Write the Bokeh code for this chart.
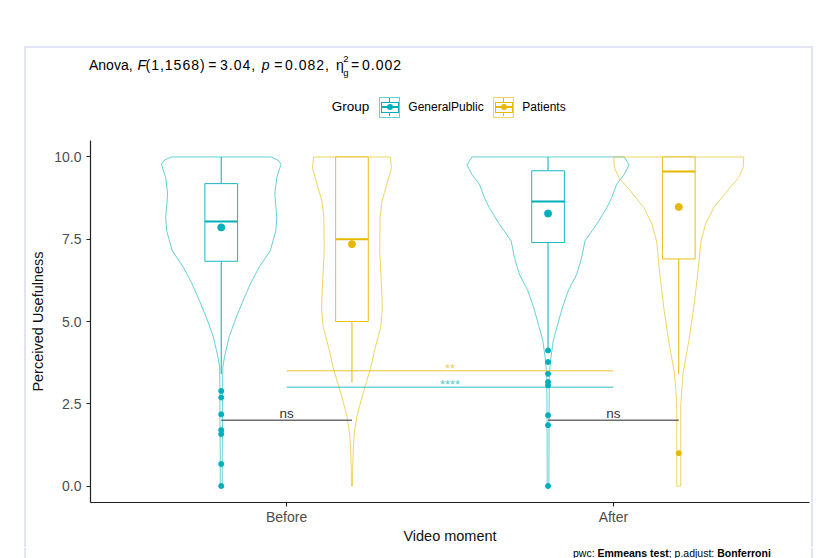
from bokeh.plotting import figure
from bokeh.models import Range1d, FixedTicker, PrintfTickFormatter, Div
from bokeh.layouts import column, row
from bokeh.embed import file_html
from bokeh.resources import INLINE
from bokeh.core.properties import value

FONT = "Liberation Sans"

# ---------------- data ----------------
moments = ["Before", "After"]
groups = ["GeneralPublic", "Patients"]
group_colors = ["#00AFBB", "#E7B800"]
group_rgba = ["rgba(0,175,187,0.6)", "rgba(231,184,0,0.6)"]

# violin outlines: value levels and half-widths (x units)
gp_before_y = [10.0, 9.9, 9.78, 9.37, 8.87, 8.16, 7.76, 7.15, 6.65, 6.14, 5.64, 5.13, 4.53, 3.92, 3.62, 3.0, 2.0, 1.0, 0.0]
gp_before_w = [0.153, 0.174, 0.183, 0.170, 0.164, 0.170, 0.167, 0.150, 0.116, 0.089, 0.067, 0.046, 0.024, 0.010, 0.005, 0.004, 0.004, 0.003, 0.003]
pt_before_y = [10.0, 9.68, 9.17, 8.67, 8.16, 7.15, 6.14, 5.43, 4.83, 4.12, 3.62, 3.11, 2.61, 2.10, 1.60, 1.09, 0.5, 0.0]
pt_before_w = [0.117, 0.121, 0.107, 0.092, 0.086, 0.085, 0.090, 0.093, 0.088, 0.069, 0.058, 0.043, 0.028, 0.015, 0.007, 0.004, 0.002, 0.0015]
gp_after_y = [10.0, 9.76, 9.47, 9.17, 8.77, 8.46, 7.96, 7.45, 6.95, 6.44, 5.94, 5.43, 4.93, 4.42, 3.92, 3.41, 2.0, 0.0]
gp_after_w = [0.233, 0.248, 0.233, 0.210, 0.195, 0.180, 0.149, 0.113, 0.103, 0.088, 0.062, 0.044, 0.030, 0.016, 0.009, 0.004, 0.003, 0.0025]
pt_after_y = [10.0, 9.68, 9.37, 8.97, 8.46, 7.96, 7.45, 6.44, 5.43, 4.42, 3.41, 2.90, 2.40, 1.40, 0.0]
pt_after_w = [0.199, 0.197, 0.183, 0.148, 0.107, 0.082, 0.068, 0.058, 0.046, 0.031, 0.013, 0.009, 0.006, 0.006, 0.006]

# box statistics, order: GP-Before, Patients-Before, GP-After, Patients-After
box_moment = [0, 0, 1, 1]
box_group = [0, 1, 0, 1]
q1 = [6.83, 5.00, 7.40, 6.90]
median = [8.04, 7.50, 8.65, 9.56]
q3 = [9.19, 10.0, 9.58, 10.0]
whisk_lo = [3.40, 3.15, 4.20, 3.40]
whisk_hi = [10.0, 10.0, 10.0, 10.0]
means = [7.86, 7.35, 8.28, 8.48]
outliers = [
    [2.89, 2.69, 2.18, 1.70, 1.58, 0.67, 0.0],
    [],
    [4.12, 3.77, 3.41, 3.16, 3.06, 2.15, 1.85, 0.0],
    [1.0],
]
violin_y = [gp_before_y, pt_before_y, gp_after_y, pt_after_y]
violin_w = [gp_before_w, pt_before_w, gp_after_w, pt_after_w]

# pairwise comparisons
ns_labels = ["ns", "ns"]          # GP vs Patients within each moment
ns_y = [2.0, 2.0]
time_labels = ["****", "**"]      # Before vs After within each group
time_y = [3.0, 3.5]

y_ticks = [0, 2.5, 5, 7.5, 10]

DODGE = 0.2
BOX_HALF = 0.05
PX = 1 / 32.9   # one screen pixel in y units
FIG_H = 407


def xpos(mi, gi):
    return (mi + 1) + (gi - 0.5) * 2 * DODGE


p = figure(width=785, height=FIG_H, x_range=Range1d(0.4, 2.6), y_range=Range1d(-0.5, 10.5),
           output_backend="svg", toolbar_location=None,
           min_border_left=64, min_border_right=2, min_border_top=0, min_border_bottom=45, margin=0)
p.outline_line_color = None
p.xgrid.visible = False
p.ygrid.visible = False
p.background_fill_color = "white"
p.border_fill_color = "white"

# ---------------- violins + boxes ----------------
for i in range(4):
    c = xpos(box_moment[i], box_group[i])
    col = group_colors[box_group[i]]
    ys = violin_y[i]
    ws = violin_w[i]
    xs = [c + w for w in ws] + [c - w for w in reversed(ws)]
    yy = list(ys) + list(reversed(ys))
    p.patch(xs, yy, fill_color=None, line_color=col, line_alpha=0.6, line_width=1.0)

for i in range(4):
    c = xpos(box_moment[i], box_group[i])
    col = group_colors[box_group[i]]
    p.segment(x0=[c, c], y0=[q3[i], q1[i]], x1=[c, c], y1=[whisk_hi[i], whisk_lo[i]],
              line_color=col, line_width=1)
    p.quad(left=[c - BOX_HALF], right=[c + BOX_HALF], bottom=[q1[i]], top=[q3[i]],
           fill_color="white", line_color=col, line_width=1, line_alpha=0.9)
    p.segment(x0=[c - BOX_HALF], y0=[median[i]], x1=[c + BOX_HALF], y1=[median[i]],
              line_color=col, line_width=2)
    p.scatter([c], [means[i]], size=7, color=col)
    if outliers[i]:
        p.scatter([c] * len(outliers[i]), outliers[i], size=5, color=col)

# ---------------- comparison brackets ----------------
for mi in range(2):
    x0 = xpos(mi, 0)
    x1 = xpos(mi, 1)
    p.segment(x0=[x0], y0=[ns_y[mi]], x1=[x1], y1=[ns_y[mi]], line_color="#555555", line_width=1.5, line_alpha=0.85)
    p.text(x=[(x0 + x1) / 2], y=[ns_y[mi] + 7 * PX], text=[ns_labels[mi]], text_align="center",
           text_baseline="alphabetic", text_font=value(FONT), text_font_size="13.5px", text_color="#333333")

for gi in range(2):
    col = group_colors[gi]
    p.segment(x0=[1], y0=[time_y[gi]], x1=[2], y1=[time_y[gi]], line_color=col, line_width=1.5, line_alpha=0.55)
    p.text(x=[1.5], y=[time_y[gi] + 2.5 * PX], text=[time_labels[gi]], text_align="center",
           text_baseline="alphabetic", text_font=value(FONT), text_font_size="13px",
           text_color=col, text_alpha=0.7)

# ---------------- axes ----------------
for ax in (p.xaxis[0], p.yaxis[0]):
    ax.axis_line_color = "#222222"
    ax.axis_line_width = 1.2
    ax.major_tick_line_color = "#222222"
    ax.major_tick_line_width = 1.1
    ax.major_tick_out = 4
    ax.major_tick_in = 0
    ax.minor_tick_line_color = None
    ax.major_label_text_font = FONT
    ax.major_label_text_font_size = "14px"
    ax.major_label_text_color = "#4d4d4d"
    ax.axis_label_text_font = FONT
    ax.axis_label_text_font_size = "14.5px"
    ax.axis_label_text_font_style = "normal"
    ax.axis_label_text_color = "#111111"

p.xaxis.ticker = FixedTicker(ticks=[1, 2])
p.xaxis.major_label_overrides = {i + 1: m for i, m in enumerate(moments)}
p.xaxis.axis_label = "Video moment"
p.xaxis.major_label_standoff = 2
p.xaxis.axis_label_standoff = 0

p.yaxis.ticker = FixedTicker(ticks=y_ticks)
p.yaxis.formatter = PrintfTickFormatter(format="%.1f")
p.yaxis.axis_label = "Perceived Usefulness"
p.yaxis.major_label_standoff = 5
p.yaxis.axis_label_standoff = 5

# ---------------- HTML decorations: page border, title, legend, caption ----------------
BORDER = "#E3E3F8"
FF = "font-family:'Liberation Sans',Arial,sans-serif;"


def span(txt, left, top, size, extra=""):
    return (f'<span style="position:absolute;left:{left}px;top:{top}px;font-size:{size}px;'
            f'line-height:1;white-space:nowrap;{extra}">{txt}</span>')


def block(left, top, w, h, style):
    return (f'<div style="position:absolute;left:{left}px;top:{top}px;width:{w}px;height:{h}px;'
            f'box-sizing:border-box;{style}"></div>')


top_parts = [block(24, 46, 789, 200, f"border:2px solid {BORDER};")]
NUM = "letter-spacing:1px;"
title_pieces = [("Anova,", 89, ""), ("F", 137.5, "font-style:italic;"), ("(1,1568)", 145.5, NUM),
                ("=", 208.3, ""), ("3.04,", 220, NUM), ("p", 261.7, "font-style:italic;"), ("=", 274.3, ""),
                ("0.082,", 285, NUM), ("\u03b7", 336, ""), ("=", 351, ""), ("0.002", 362, NUM)]
for txt, x, st in title_pieces:
    top_parts.append(span(txt, x, 58.1, 14, st))
top_parts.append(span("2", 343.2, 54, 9.5))
top_parts.append(span("g", 343.2, 67.5, 9.5))

# legend
top_parts.append(span("Group", 331.7, 100.4, 13.5))
key_left = [379.3, 493.3]
label_left = [408.3, 522.3]
KT, KS = 96.5, 21
for gi in range(2):
    L = key_left[gi]
    c = group_colors[gi]
    ca = group_rgba[gi]
    top_parts.append(block(L, KT, KS, KS, f"border:1px solid {ca};"))
    top_parts.append(block(L + 1.5, KT + 5, KS - 3, 11, f"border:1px solid {c};"))
    top_parts.append(block(L + 1.5, KT + 9.5, KS - 3, 2, f"background:{c};"))
    top_parts.append(block(L + 10, KT + 1.5, 1, 3.5, f"background:{c};"))
    top_parts.append(block(L + 10, KT + 16, 1, 3.5, f"background:{c};"))
    top_parts.append(block(L + 7.5, KT + 7.5, 6, 6, f"background:{c};border-radius:50%;"))
    top_parts.append(span(groups[gi], label_left[gi], 101, 12))

top_html = (f'<div style="position:relative;width:816px;height:140px;overflow:hidden;{FF}color:#000;">'
            + "".join(top_parts) + "</div>")
top_div = Div(text=top_html, width=816, height=140, margin=0)

left_div = Div(text=f'<div style="position:relative;width:26px;height:{FIG_H}px;overflow:hidden;">'
               + block(24, 0, 2, FIG_H, f"background:{BORDER};") + "</div>",
               width=26, height=FIG_H, margin=0)
right_div = Div(text=f'<div style="position:relative;width:5px;height:{FIG_H}px;overflow:hidden;">'
                + block(0, 0, 2, FIG_H, f"background:{BORDER};") + "</div>",
                width=5, height=FIG_H, margin=0)

CAP_H = 11
caption = "pwc: <b>Emmeans test</b>; p.adjust: <b>Bonferroni</b>"
bottom_html = (f'<div style="position:relative;width:816px;height:{CAP_H}px;overflow:hidden;{FF}color:#000;">'
               + block(24, 0, 2, CAP_H, f"background:{BORDER};")
               + block(811, 0, 2, CAP_H, f"background:{BORDER};")
               + span(caption, 573, 0, 10.5) + "</div>")
bottom_div = Div(text=bottom_html, width=816, height=CAP_H, margin=0)

layout = column(top_div, row(left_div, p, right_div, margin=0, spacing=0), bottom_div,
                margin=0, spacing=0)

open("out.html", "w").write(file_html(layout, INLINE))
